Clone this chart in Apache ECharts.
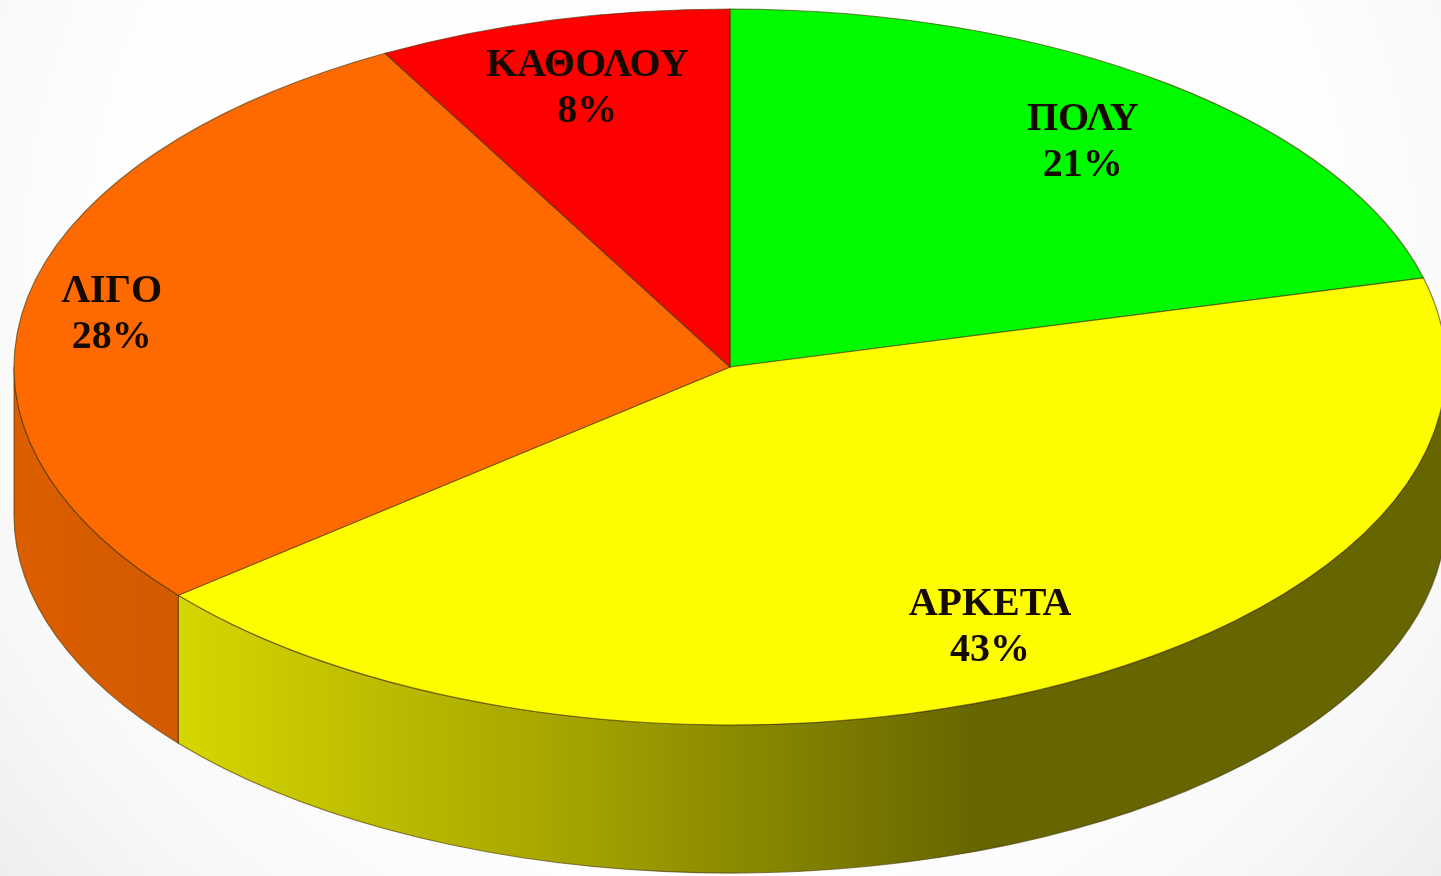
<!DOCTYPE html>
<html>
<head>
<meta charset="utf-8">
<title>Pie</title>
<script src="https://cdn.jsdelivr.net/npm/echarts@6/dist/echarts.min.js"></script>
<style>
html, body { margin: 0; padding: 0; }
#chart { width: 1441px; height: 876px; }
</style>
</head>
<body>
<div id="chart"></div>
<script>
// clockwise from 12 o'clock
const categories = ['ΠΟΛΥ', 'ΑΡΚΕΤΑ', 'ΛΙΓΟ', 'ΚΑΘΟΛΟΥ']
const values = [21, 43, 28, 8]

const topColors = ['#00fa00', '#fdfd00', '#ff6a00', '#ff0000']
const sideColors = [
  ['#00c000', '#006600'],
  ['#d6d600', '#a0a000', '#666600', '#666600'],
  ['#dc5e00', '#d25a00'],
  ['#c00000', '#660000']
]
// how far out along the slice's mid angle the label sits
const labelReachX = [0.804, 0.8, 0.879, 0.801]
const labelReachY = [0.792, 0.818, 0.777, 0.803]

const cx = 730
const cy = 367
const rx = 716
const ry = 358
const depth = 148
const edge = 'rgba(70, 50, 0, 0.6)'

const total = values.reduce((a, b) => a + b, 0)

function sliceAngles(idx) {
  let before = 0
  for (let i = 0; i < idx; i++) before += values[i]
  return [before / total * 2 * Math.PI, (before + values[idx]) / total * 2 * Math.PI]
}

function px(a) {
  return cx + rx * Math.sin(a)
}

function py(a, dy) {
  return cy - ry * Math.cos(a) + (dy || 0)
}

function arc(a, sweep, dy) {
  const large = Math.abs(a[1] - a[0]) > Math.PI ? 1 : 0
  return `A${rx} ${ry} 0 ${large} ${sweep} ${px(a[1])} ${py(a[1], dy)}`
}

function renderTop(params, api) {
  const idx = params.dataIndex
  const a = sliceAngles(idx)
  const mid = (a[0] + a[1]) / 2
  return {
    type: 'group',
    children: [
      {
        type: 'path',
        shape: {
          pathData: `M${cx} ${cy}L${px(a[0])} ${py(a[0])}${arc(a, 1)}Z`
        },
        style: { fill: topColors[idx], stroke: edge, lineWidth: 1.2 }
      },
      {
        type: 'text',
        z2: 10,
        style: {
          text: categories[idx] + '\n' + api.value(0) + '%',
          x: cx + rx * labelReachX[idx] * Math.sin(mid),
          y: cy - ry * labelReachY[idx] * Math.cos(mid),
          align: 'center',
          verticalAlign: 'middle',
          font: 'bold 40px "Liberation Serif"',
          lineHeight: 46,
          fill: '#140a00',
          shadowBlur: 3,
          shadowColor: 'rgba(40, 20, 0, 0.6)'
        }
      }
    ]
  }
}

function renderSide(params) {
  const idx = params.dataIndex
  const a = sliceAngles(idx)
  // only the front half of the rim can be seen
  const from = Math.max(a[0], Math.PI / 2)
  const to = Math.min(a[1], Math.PI * 1.5)
  if (from >= to) return null
  const stops = sideColors[idx]
  const offsets = stops.length === 4 ? [0, 0.33, 0.63, 1] : [0, 1]
  const fill = new echarts.graphic.LinearGradient(
    0, 0, 1, 0,
    stops.map((c, i) => ({ offset: offsets[i], color: c }))
  )
  return {
    type: 'path',
    shape: {
      pathData: `M${px(from)} ${py(from)}${arc([from, to], 1)}` +
        `L${px(to)} ${py(to, depth)}${arc([to, from], 0, depth)}Z`
    },
    style: { fill: fill, stroke: edge, lineWidth: 1.2 }
  }
}

const chart = echarts.init(document.getElementById('chart'))
chart.setOption({
  animation: false,
  backgroundColor: {
    type: 'radial',
    x: 0.5,
    y: 0.3,
    r: 1.25,
    colorStops: [
      { offset: 0, color: '#ffffff' },
      { offset: 0.55, color: '#fefefe' },
      { offset: 0.72, color: '#f8f8f9' },
      { offset: 0.87, color: '#eeeef0' },
      { offset: 1, color: '#e8e8ec' }
    ]
  },
  series: [
    {
      type: 'custom',
      coordinateSystem: 'none',
      silent: true,
      z: 1,
      data: values,
      renderItem: renderSide
    },
    {
      type: 'custom',
      coordinateSystem: 'none',
      silent: true,
      z: 2,
      data: values,
      renderItem: renderTop
    }
  ]
})
</script>
</body>
</html>
